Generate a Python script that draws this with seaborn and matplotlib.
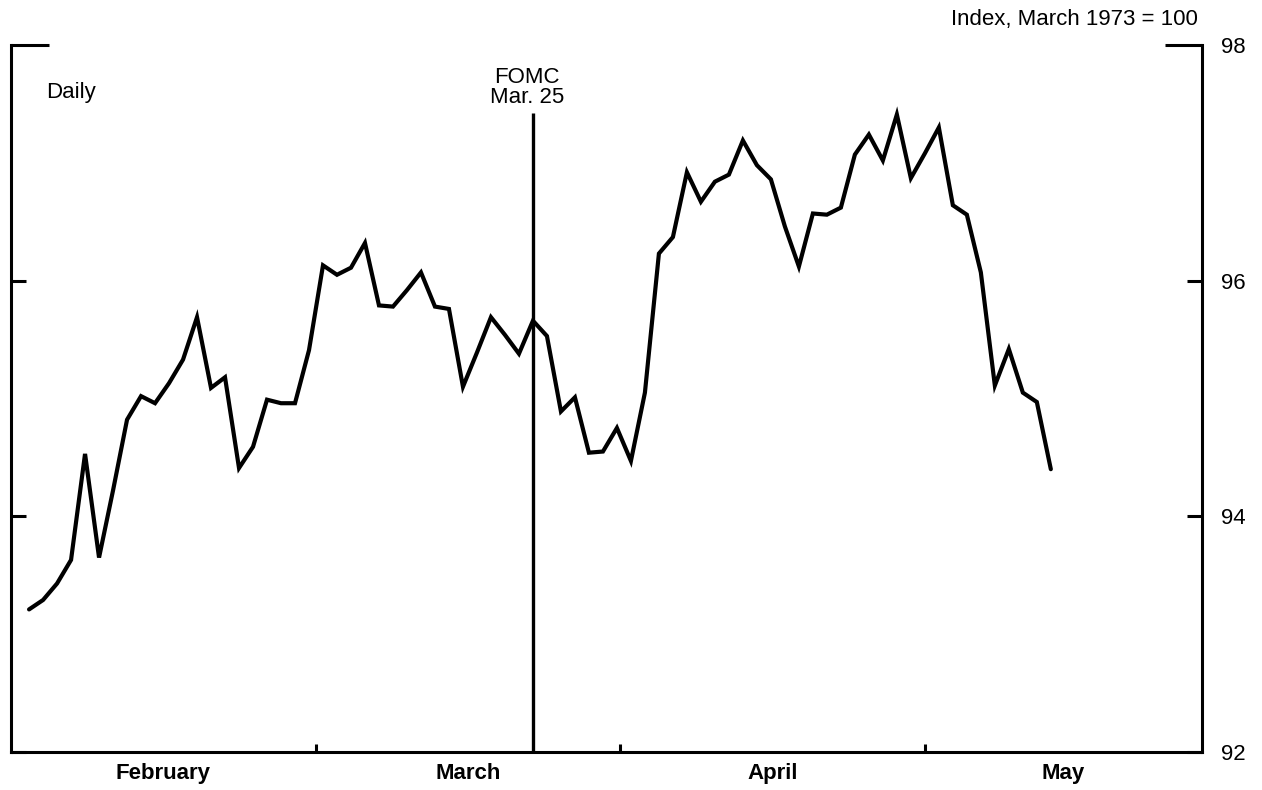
import numpy as np
import pandas as pd
import matplotlib
matplotlib.use("Agg")
import matplotlib.pyplot as plt
import seaborn as sns

# ---- data (daily dollar index, March 1973 = 100) ----
index_values = [
    93.21, 93.29, 93.43, 93.63, 94.53, 93.65, 94.22, 94.82, 95.02, 94.96,
    95.13, 95.33, 95.69, 95.09, 95.18, 94.41, 94.59, 94.99, 94.96, 94.96,
    95.41, 96.13, 96.05, 96.11, 96.32, 95.79, 95.78, 95.92, 96.07, 95.78,
    95.76, 95.10, 95.39, 95.69, 95.54, 95.38, 95.66, 95.53, 94.89, 95.01,
    94.54, 94.55, 94.75, 94.47, 95.05, 96.23, 96.37, 96.92, 96.67, 96.84,
    96.90, 97.19, 96.98, 96.86, 96.46, 96.12, 96.57, 96.56, 96.62, 97.07,
    97.24, 97.02, 97.41, 96.87, 97.08, 97.30, 96.64, 96.56, 96.07, 95.11,
    95.42, 95.05, 94.97, 94.40,
]
month_labels = ["February", "March", "April", "May"]
fomc_obs = 36          # observation of the March 25 FOMC meeting
fomc_label = "FOMC\nMar. 25"
y_major = [92, 94, 96]
y_top = [98]

df = pd.DataFrame({"obs": np.arange(len(index_values)), "value": index_values})

# ---- layout ----
sns.set_style("white")
plt.rcParams["font.family"] = ["Liberation Sans", "DejaVu Sans"]
plt.rcParams["text.color"] = "black"
plt.rcParams["xtick.color"] = "black"
plt.rcParams["ytick.color"] = "black"
plt.rcParams["axes.labelcolor"] = "black"

FS = 16

fig = plt.figure(figsize=(12.62, 7.90), dpi=100)
ax = fig.add_axes([11 / 1262, 38 / 790, (1202 - 11) / 1262, (752 - 45) / 790])

sns.lineplot(data=df, x="obs", y="value", ax=ax, color="black", linewidth=3.0,
             solid_joinstyle="miter")

ax.set_xlim(-1.29, 83.8)
ax.set_ylim(92, 98)

# FOMC line
ax.vlines(fomc_obs, 92, 97.42, color="black", linewidth=2.4)
ax.text(fomc_obs - 0.45, 97.64, fomc_label, ha="center", va="center",
        fontsize=FS, linespacing=0.95)

ax.text(3.0, 97.6, "Daily", ha="center", va="center", fontsize=FS)
fig.text(1198 / 1262, 1 - 20 / 790, "Index, March 1973 = 100",
         ha="right", va="center", fontsize=FS)

# spines
for s in ["left", "right", "bottom"]:
    ax.spines[s].set_visible(True)
    ax.spines[s].set_linewidth(2.2)
    ax.spines[s].set_color("black")
ax.spines["top"].set_visible(False)

# y ticks: inward on both sides, labels on right
ax.set_yticks(y_major)
ax.set_yticks(y_top, minor=True)
ax.set_yticklabels([str(v) for v in y_major])
ax.set_yticklabels([str(v) for v in y_top], minor=True)
ax.tick_params(axis="y", which="major", direction="in", length=11, width=2.2,
               left=True, right=True, labelleft=False, labelright=True,
               labelsize=FS, pad=14)
ax.tick_params(axis="y", which="minor", direction="in", length=27, width=2.2,
               left=True, right=True, labelleft=False, labelright=True,
               labelsize=FS, pad=14)

# x ticks: month boundaries (major) and month label centres (minor)
month_bounds = [20.5, 42.2, 64.0]
month_centres = [9.6, 31.35, 53.1, 73.9]
ax.set_xticks(month_bounds)
ax.set_xticklabels([])
ax.set_xticks(month_centres, minor=True)
ax.set_xticklabels(month_labels, minor=True, fontweight="bold")
ax.tick_params(axis="x", which="major", direction="in", length=6, width=2.2,
               bottom=True)
ax.tick_params(axis="x", which="minor", length=0, labelsize=FS, pad=8,
               bottom=True)

ax.set_xlabel("")
ax.set_ylabel("")
ax.grid(False)

fig.savefig("out.png", dpi=100, facecolor="white")
